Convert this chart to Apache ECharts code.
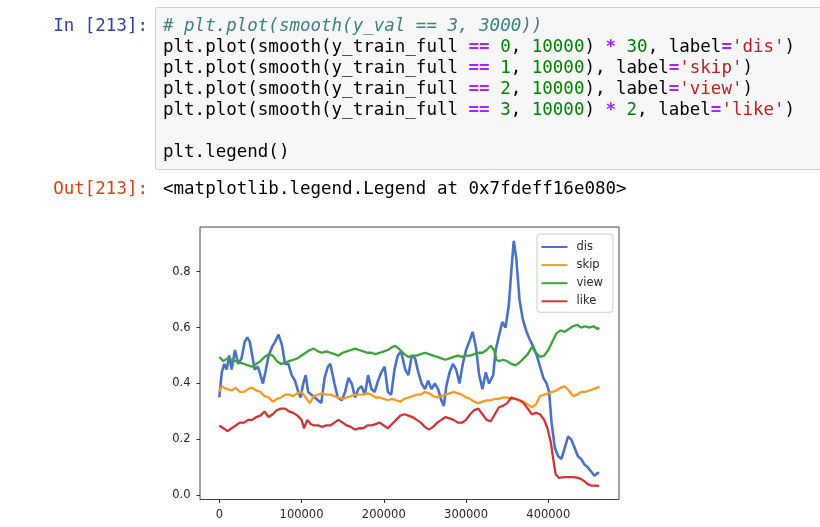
<!DOCTYPE html>
<html><head><meta charset="utf-8">
<script src="https://cdn.jsdelivr.net/npm/echarts@6/dist/echarts.min.js"></script>
<style>html,body{margin:0;padding:0;background:#fff}#c{width:820px;height:527px}</style>
</head><body><div id="c"></div>
<script>
const seriesNames = ['dis', 'skip', 'view', 'like'];
const seriesColors = ['#4a72c2', '#f59a23', '#3ca33c', '#cf3535'];
const xTicks = [0, 100000, 200000, 300000, 400000];
const yTicks = [0, 0.2, 0.4, 0.6, 0.8];

const disData = [[0,0.35],[3000,0.44],[6000,0.47],[9000,0.45],[12000,0.50],[15000,0.45],[19000,0.52],[23000,0.47],[27000,0.49],[31000,0.55],[34000,0.565],[37000,0.55],[40000,0.50],[43000,0.45],[47000,0.46],[50000,0.43],[53000,0.40],[56000,0.44],[60000,0.50],[64000,0.53],[68000,0.55],[72000,0.575],[76000,0.54],[80000,0.47],[84000,0.47],[88000,0.43],[92000,0.41],[96000,0.37],[99000,0.35],[102000,0.40],[105000,0.43],[108000,0.37],[112000,0.36],[116000,0.35],[120000,0.34],[124000,0.33],[128000,0.42],[132000,0.46],[135000,0.47],[140000,0.40],[144000,0.35],[149000,0.34],[153000,0.37],[157000,0.42],[161000,0.40],[165000,0.35],[169000,0.38],[173000,0.39],[177000,0.36],[181000,0.43],[185000,0.38],[189000,0.37],[193000,0.41],[197000,0.44],[201000,0.46],[205000,0.37],[209000,0.36],[213000,0.45],[217000,0.50],[221000,0.515],[226000,0.45],[230000,0.43],[234000,0.50],[238000,0.49],[242000,0.44],[246000,0.40],[250000,0.38],[254000,0.41],[258000,0.38],[262000,0.40],[266000,0.38],[270000,0.34],[273000,0.32],[276000,0.39],[280000,0.44],[284000,0.47],[288000,0.45],[292000,0.40],[296000,0.47],[300000,0.52],[304000,0.55],[308000,0.585],[312000,0.53],[316000,0.43],[320000,0.38],[324000,0.44],[328000,0.40],[333000,0.43],[336000,0.52],[340000,0.57],[344000,0.62],[348000,0.60],[352000,0.68],[355000,0.80],[358000,0.91],[361000,0.85],[365000,0.70],[369000,0.63],[373000,0.59],[377000,0.56],[382000,0.53],[386000,0.50],[390000,0.46],[394000,0.42],[398000,0.40],[401000,0.37],[404000,0.26],[408000,0.17],[412000,0.14],[416000,0.13],[420000,0.17],[424000,0.21],[428000,0.20],[432000,0.17],[436000,0.14],[440000,0.13],[444000,0.11],[448000,0.10],[452000,0.085],[456000,0.07],[460000,0.08],[462000,0.08]];

const skipData = [[0,0.37],[3000,0.39],[6000,0.385],[10000,0.38],[15000,0.375],[20000,0.385],[25000,0.37],[30000,0.37],[35000,0.38],[40000,0.385],[45000,0.375],[50000,0.37],[55000,0.355],[60000,0.35],[65000,0.335],[70000,0.345],[75000,0.35],[80000,0.36],[85000,0.36],[90000,0.355],[95000,0.365],[100000,0.37],[105000,0.35],[110000,0.33],[115000,0.355],[120000,0.36],[125000,0.365],[130000,0.36],[135000,0.36],[140000,0.355],[145000,0.35],[150000,0.345],[155000,0.35],[160000,0.355],[165000,0.36],[170000,0.36],[175000,0.36],[180000,0.365],[185000,0.36],[190000,0.35],[195000,0.35],[200000,0.345],[205000,0.34],[210000,0.345],[215000,0.34],[220000,0.335],[225000,0.345],[230000,0.35],[235000,0.355],[240000,0.36],[245000,0.36],[250000,0.37],[255000,0.365],[260000,0.355],[265000,0.35],[270000,0.355],[275000,0.36],[280000,0.365],[285000,0.37],[290000,0.365],[295000,0.36],[300000,0.35],[305000,0.345],[310000,0.335],[315000,0.33],[320000,0.335],[325000,0.34],[330000,0.34],[335000,0.345],[340000,0.345],[345000,0.35],[350000,0.35],[355000,0.345],[360000,0.345],[365000,0.34],[370000,0.335],[375000,0.325],[380000,0.315],[385000,0.325],[390000,0.355],[395000,0.36],[400000,0.365],[405000,0.37],[410000,0.375],[415000,0.385],[420000,0.39],[425000,0.375],[430000,0.355],[435000,0.36],[440000,0.37],[445000,0.37],[450000,0.375],[455000,0.38],[460000,0.385],[462000,0.39]];

const viewData = [[0,0.495],[5000,0.48],[10000,0.49],[15000,0.485],[20000,0.48],[25000,0.475],[30000,0.47],[35000,0.465],[40000,0.46],[45000,0.47],[50000,0.48],[55000,0.495],[60000,0.505],[65000,0.50],[70000,0.48],[75000,0.47],[80000,0.475],[85000,0.48],[90000,0.485],[95000,0.49],[100000,0.50],[105000,0.51],[110000,0.52],[115000,0.525],[120000,0.515],[125000,0.51],[130000,0.515],[135000,0.51],[140000,0.505],[145000,0.50],[150000,0.51],[155000,0.515],[160000,0.52],[165000,0.525],[170000,0.52],[175000,0.515],[180000,0.51],[185000,0.51],[190000,0.505],[195000,0.51],[200000,0.515],[205000,0.52],[210000,0.53],[214000,0.535],[220000,0.52],[225000,0.505],[230000,0.495],[235000,0.50],[240000,0.50],[245000,0.505],[250000,0.51],[255000,0.505],[260000,0.50],[265000,0.495],[270000,0.49],[275000,0.485],[280000,0.49],[285000,0.495],[290000,0.50],[295000,0.495],[300000,0.50],[305000,0.50],[310000,0.505],[315000,0.51],[320000,0.51],[325000,0.52],[330000,0.535],[334000,0.52],[337000,0.485],[340000,0.48],[345000,0.485],[350000,0.48],[355000,0.47],[360000,0.465],[365000,0.475],[370000,0.49],[375000,0.505],[380000,0.53],[385000,0.51],[390000,0.495],[395000,0.50],[400000,0.52],[405000,0.55],[410000,0.58],[415000,0.59],[420000,0.585],[425000,0.595],[430000,0.605],[435000,0.61],[440000,0.60],[445000,0.605],[450000,0.60],[455000,0.605],[460000,0.595],[462000,0.60]];

const likeData = [[0,0.25],[5000,0.24],[10000,0.23],[15000,0.24],[20000,0.25],[25000,0.26],[30000,0.26],[35000,0.27],[40000,0.27],[45000,0.28],[50000,0.285],[55000,0.30],[60000,0.28],[65000,0.29],[70000,0.305],[75000,0.31],[80000,0.31],[85000,0.30],[90000,0.295],[95000,0.285],[100000,0.27],[103000,0.24],[107000,0.27],[111000,0.255],[115000,0.25],[120000,0.25],[125000,0.245],[130000,0.25],[135000,0.25],[140000,0.26],[145000,0.27],[150000,0.26],[155000,0.25],[160000,0.245],[165000,0.235],[170000,0.24],[175000,0.24],[180000,0.25],[185000,0.25],[190000,0.255],[195000,0.26],[200000,0.25],[205000,0.24],[210000,0.255],[215000,0.27],[220000,0.285],[225000,0.29],[230000,0.285],[235000,0.28],[240000,0.27],[245000,0.26],[250000,0.245],[255000,0.235],[260000,0.245],[265000,0.26],[270000,0.27],[275000,0.28],[280000,0.275],[285000,0.27],[290000,0.26],[295000,0.26],[300000,0.27],[305000,0.29],[310000,0.305],[315000,0.31],[320000,0.29],[325000,0.27],[330000,0.265],[335000,0.29],[340000,0.315],[345000,0.32],[350000,0.33],[355000,0.35],[360000,0.345],[365000,0.34],[370000,0.33],[375000,0.31],[380000,0.29],[385000,0.295],[390000,0.29],[395000,0.27],[399000,0.24],[403000,0.19],[406000,0.13],[409000,0.075],[413000,0.062],[420000,0.065],[425000,0.065],[430000,0.065],[435000,0.063],[440000,0.058],[444000,0.05],[448000,0.04],[452000,0.035],[456000,0.035],[462000,0.034]];

const codeLines = [
  "# plt.plot(smooth(y_val == 3, 3000))",
  "plt.plot(smooth(y_train_full == 0, 10000) * 30, label='dis')",
  "plt.plot(smooth(y_train_full == 1, 10000), label='skip')",
  "plt.plot(smooth(y_train_full == 2, 10000), label='view')",
  "plt.plot(smooth(y_train_full == 3, 10000) * 2, label='like')",
  "",
  "plt.legend()"
];
const inPrompt = "In [213]:";
const outPrompt = "Out[213]:";
const outText = "<matplotlib.legend.Legend at 0x7fdeff16e080>";

const MONO = "'DejaVu Sans Mono', monospace";
const FS = 17.5;
function richLine(line) {
  if (line.startsWith('#')) return '{cm|' + line + '}';
  const parts = line.split(/(==|\*|=|'[^']*'|\b\d+\b)/);
  return parts.map(p => {
    if (!p) return '';
    if (p === '==' || p === '*' || p === '=') return '{op|' + p + '}';
    if (p[0] === "'") return '{st|' + p + '}';
    if (/^\d+$/.test(p)) return '{nu|' + p + '}';
    return '{tx|' + p + '}';
  }).join('');
}
const rich = {
  tx: {fontFamily: MONO, fontSize: FS, fill: '#000000', color: '#000000'},
  cm: {fontFamily: MONO, fontSize: FS, fontStyle: 'italic', fill: '#408080', color: '#408080'},
  op: {fontFamily: MONO, fontSize: FS, fontWeight: 'bold', fill: '#aa22ff', color: '#aa22ff'},
  st: {fontFamily: MONO, fontSize: FS, fill: '#ba2121', color: '#ba2121'},
  nu: {fontFamily: MONO, fontSize: FS, fill: '#008000', color: '#008000'}
};

const Y0 = 26.5;
const graphics = [
  {type: 'rect', shape: {x: 155.5, y: 7.5, width: 720, height: 162, r: 2},
   style: {fill: '#f7f7f7', stroke: '#cfcfcf', lineWidth: 1}, z: 0, silent: true},
  {type: 'text', x: 148, y: Y0, z: 2, style: {text: inPrompt, fontFamily: MONO, fontSize: FS, fill: '#303f9f', align: 'right', verticalAlign: 'middle'}},
  {type: 'text', x: 148, y: 189.5, z: 2, style: {text: outPrompt, fontFamily: MONO, fontSize: FS, fill: '#d84315', align: 'right', verticalAlign: 'middle'}},
  {type: 'text', x: 163, y: 189.5, z: 2, style: {text: outText, fontFamily: MONO, fontSize: FS, fill: '#000000', verticalAlign: 'middle'}}
];
codeLines.forEach((ln, i) => {
  if (!ln) return;
  graphics.push({type: 'text', x: 163, y: Y0 + i * 21, z: 2,
    style: {text: richLine(ln), rich: rich, fontFamily: MONO, fontSize: FS, verticalAlign: 'middle'}});
});

const chart = echarts.init(document.getElementById('c'), null, {renderer: 'canvas'});
const tickColor = '#333333';
const labelStyle = {color: '#262626', fontSize: 11.5, fontFamily: "'DejaVu Sans', sans-serif"};
chart.setOption({
  animation: false,
  backgroundColor: '#ffffff',
  graphic: graphics,
  grid: {left: 200, top: 227, width: 419, height: 272.5, show: true, borderColor: '#444444', borderWidth: 1, backgroundColor: 'transparent'},
  legend: {
    orient: 'vertical', left: 537, top: 234, icon: 'rect', itemWidth: 26, itemHeight: 2, itemGap: 6.1,
    padding: [7, 10, 5, 4.5], borderColor: '#cccccc', borderWidth: 1, borderRadius: 3,
    backgroundColor: 'rgba(255,255,255,0.8)', data: seriesNames,
    textStyle: Object.assign({padding: [0, 0, 0, 4]}, labelStyle)
  },
  xAxis: {
    type: 'value', min: -23470, max: 485970,
    splitLine: {show: false},
    axisLine: {show: false, onZero: false},
    axisTick: {show: true, inside: false, length: 3.5, lineStyle: {color: tickColor, width: 1}, customValues: xTicks},
    axisLabel: Object.assign({customValues: xTicks, formatter: v => String(v), margin: 9.5}, labelStyle)
  },
  yAxis: {
    type: 'value', min: -0.015, max: 0.96,
    splitLine: {show: false},
    axisLine: {show: false, onZero: false},
    axisTick: {show: true, inside: false, length: 3.5, lineStyle: {color: tickColor, width: 1}, customValues: yTicks},
    axisLabel: Object.assign({customValues: yTicks, formatter: v => v.toFixed(1), margin: 9.5}, labelStyle)
  },
  series: [disData, skipData, viewData, likeData].map((d, i) => ({
    name: seriesNames[i], type: 'line', data: d, symbol: 'none', showSymbol: false,
    lineStyle: {width: i === 0 ? 2.6 : 2.3, color: seriesColors[i]}, itemStyle: {color: seriesColors[i]},
    emphasis: {disabled: true}
  }))
});
</script></body></html>
